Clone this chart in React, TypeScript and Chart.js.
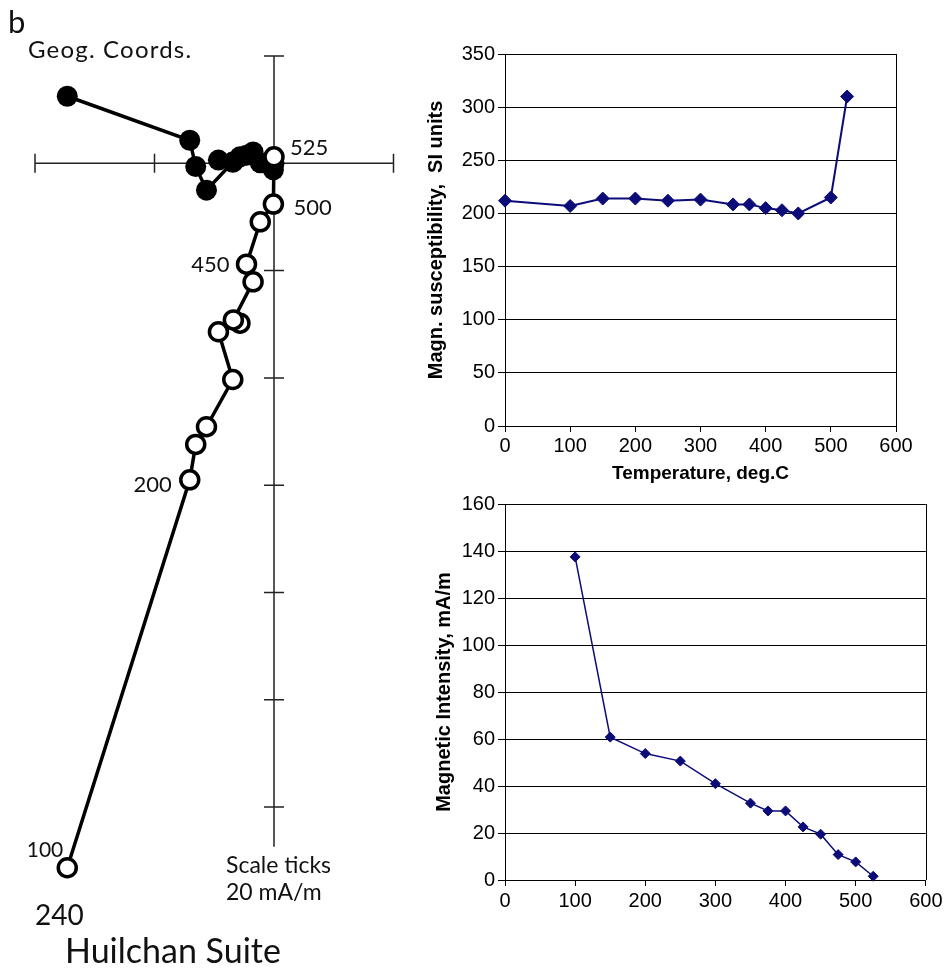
import React, { useEffect, useRef } from 'react';
import { Chart, registerables } from 'chart.js';

Chart.register(...registerables);

const W = 946;
const H = 968;

// ---- Magnetic susceptibility vs temperature ----
const suscTemps = [0, 100, 150, 200, 250, 300, 350, 375, 400, 425, 450, 500, 525];
const suscValues = [212, 207, 214, 214, 212, 213, 208.5, 208.5, 205, 203, 200, 215, 310];

// ---- Magnetic intensity vs temperature ----
const intTemps = [100, 150, 200, 250, 300, 350, 375, 400, 425, 450, 475, 500, 525];
const intValues = [137.5, 60.8, 53.8, 50.6, 41.0, 32.7, 29.4, 29.4, 22.6, 19.5, 10.8, 7.7, 1.6];

// ---- Zijderveld diagram (mA/m), Geog. coords ----
const zijSteps = [100, 150, 200, 250, 300, 350, 375, 400, 425, 450, 475, 500, 525];
const zijEast = [-34.6, -14.1, -13.1, -11.3, -6.9, -9.3, -5.7, -6.8, -3.5, -4.6, -2.3, -0.1, 0];
const zijNorth = [12.5, 4.3, -0.6, -5.0, 0.2, 0.6, 1.2, 0.3, 2.1, 1.5, 0.1, -1.2, 0];
const zijUp = [-131.3, -59.0, -52.4, -49.1, -40.3, -31.4, -29.8, -29.2, -22.1, -18.8, -10.9, -7.6, 1.2];
const zijLabels = ['100', '200', '', '', '', '', '', '', '', '450', '', '500', '525'];
const zijHTicks = [-40, -20, 20];
const zijVTicks = [20, -20, -40, -60, -80, -100, -120];
const zijHRange = [-40, 20];
const zijVRange = [-127.4, 20];

// label placement (style, kept apart from values): [dx, dy, align, fontSize]
const zijLabelPlace: [number, number, CanvasTextAlign, number][] = [
  [-4, -11, 'right', 21],
  [-18, 12, 'right', 22],
  [0, 0, 'left', 22], [0, 0, 'left', 22], [0, 0, 'left', 22], [0, 0, 'left', 22],
  [0, 0, 'left', 22], [0, 0, 'left', 22], [0, 0, 'left', 22],
  [-17, 8, 'right', 22],
  [0, 0, 'left', 22],
  [20, 11, 'left', 22],
  [16, -2, 'left', 22],
];

const SERIES = '#0c0c78';
const GEO_FONT = 'Lato, "DejaVu Sans", sans-serif';
const XL_FONT = '"Liberation Sans", Arial, sans-serif';

const zijPlugin = {
  id: 'zijAxes',
  beforeDatasetsDraw(chart: any) {
    const { ctx } = chart;
    const x = chart.scales.x;
    const y = chart.scales.y;
    const x0 = x.getPixelForValue(0);
    const y0 = y.getPixelForValue(0);
    ctx.save();
    ctx.strokeStyle = '#222';
    ctx.lineWidth = 1.5;
    ctx.beginPath();
    ctx.moveTo(x.getPixelForValue(zijHRange[0]), y0);
    ctx.lineTo(x.getPixelForValue(zijHRange[1]), y0);
    ctx.moveTo(x0, y.getPixelForValue(zijVRange[1]));
    ctx.lineTo(x0, y.getPixelForValue(zijVRange[0]));
    for (const t of zijHTicks) {
      const px = x.getPixelForValue(t);
      ctx.moveTo(px, y0 - 9.5);
      ctx.lineTo(px, y0 + 9.5);
    }
    for (const t of zijVTicks) {
      const py = y.getPixelForValue(t);
      ctx.moveTo(x0 - 10, py);
      ctx.lineTo(x0 + 10, py);
    }
    ctx.stroke();
    ctx.restore();
  },
  afterDatasetsDraw(chart: any) {
    const { ctx } = chart;
    const x = chart.scales.x;
    const y = chart.scales.y;
    ctx.save();
    ctx.fillStyle = '#111';
    ctx.textBaseline = 'alphabetic';
    zijLabels.forEach((lab, i) => {
      if (!lab) return;
      const [dx, dy, align, size] = zijLabelPlace[i];
      ctx.font = `${size}px ${GEO_FONT}`;
      ctx.textAlign = align;
      ctx.fillText(lab, x.getPixelForValue(zijEast[i]) + dx, y.getPixelForValue(zijUp[i]) + dy);
    });
    const texts: [string, number, number, number, number][] = [
      ['b', 8, 33, 31, 0],
      ['Geog. Coords.', 28, 58, 24, 1.2],
      ['Scale ticks', 226, 873, 23, 0],
      ['20 mA/m', 226, 900, 23, 0],
      ['240', 35, 925, 28, 0],
      ['Huilchan Suite', 65, 963, 34, 0],
    ];
    ctx.textAlign = 'left';
    for (const [t, tx, ty, s, ls] of texts) {
      ctx.font = `${s}px ${GEO_FONT}`;
      (ctx as any).letterSpacing = `${ls}px`;
      ctx.fillText(t, tx, ty);
    }
    (ctx as any).letterSpacing = '0px';
    ctx.restore();
  },
};

const framePlugin = {
  id: 'plotFrame',
  beforeDatasetsDraw(chart: any) {
    const { ctx, chartArea } = chart;
    const xr = Math.round(chartArea.right) + 0.5;
    ctx.save();
    ctx.strokeStyle = '#000';
    ctx.lineWidth = 1;
    ctx.beginPath();
    ctx.moveTo(xr, chartArea.top);
    ctx.lineTo(xr, chartArea.bottom);
    ctx.stroke();
    ctx.restore();
  },
};

function zijConfig(): any {
  // plot box: x -40 → 35px, 20 → 393.5px ; y 20 → 56px, -135 → 887.6px
  return {
    type: 'scatter',
    data: {
      datasets: [
        {
          label: 'Vertical',
          data: zijSteps.map((_, i) => ({ x: zijEast[i], y: zijUp[i] })),
          showLine: true,
          borderColor: '#000',
          borderWidth: 3.5,
          pointRadius: 9,
          pointBorderWidth: 3.5,
          pointBackgroundColor: '#fff',
          pointBorderColor: '#000',
          clip: false,
          order: 0,
        },
        {
          label: 'Horizontal',
          data: zijSteps.map((_, i) => ({ x: zijEast[i], y: zijNorth[i] })),
          showLine: true,
          borderColor: '#000',
          borderWidth: 3.5,
          pointRadius: 10.5,
          pointBorderWidth: 0,
          pointBackgroundColor: '#000',
          pointBorderColor: '#000',
          clip: false,
          order: 1,
        },
      ],
    },
    options: {
      responsive: false,
      animation: false,
      devicePixelRatio: 1,
      events: [],
      layout: { padding: { left: 35, right: W - 393.5, top: 56, bottom: H - 887.6 } },
      plugins: { legend: { display: false }, tooltip: { enabled: false } },
      scales: {
        x: { type: 'linear', min: -40, max: 20, display: false },
        y: { type: 'linear', min: -135, max: 20, display: false },
      },
    },
    plugins: [zijPlugin],
  };
}

function xlScales(o: {
  xMax: number; yMax: number; yStep: number; yTitle: string; xTitle?: string;
  xH: number; xPad: number; yTitlePad: number;
}): any {
  return {
    x: {
      type: 'linear',
      min: 0,
      max: o.xMax,
      ticks: { stepSize: 100, color: '#000', padding: o.xPad, font: { family: XL_FONT, size: 20 }, maxRotation: 0 },
      grid: { drawOnChartArea: false, drawTicks: true, tickLength: 6, color: '#000', lineWidth: 1 },
      border: { display: true, color: '#000', width: 1 },
      title: o.xTitle
        ? { display: true, text: o.xTitle, color: '#000', padding: { top: 0, bottom: 0 }, font: { family: XL_FONT, size: 19, weight: 'bold' } }
        : { display: false },
      afterFit: (s: any) => { s.height = o.xH; },
    },
    y: {
      type: 'linear',
      min: 0,
      max: o.yMax,
      ticks: { stepSize: o.yStep, color: '#000', padding: 3, font: { family: XL_FONT, size: 20 } },
      grid: { drawOnChartArea: true, drawTicks: true, tickLength: 7, color: '#000', lineWidth: 1 },
      border: { display: true, color: '#000', width: 1 },
      title: { display: true, text: o.yTitle, color: '#000', padding: { top: o.yTitlePad, bottom: 0 }, font: { family: XL_FONT, size: 20, weight: 'bold' } },
      afterFit: (s: any) => { s.width = 85; },
    },
  };
}

function suscConfig(): any {
  const xH = 59;
  return {
    type: 'scatter',
    data: {
      datasets: [{
        label: 'Susceptibility',
        data: suscTemps.map((t, i) => ({ x: t, y: suscValues[i] })),
        showLine: true,
        borderColor: SERIES,
        borderWidth: 2,
        pointStyle: 'rectRot',
        pointRadius: 6.5,
        pointBorderWidth: 1,
        pointBackgroundColor: SERIES,
        pointBorderColor: SERIES,
        clip: false,
      }],
    },
    options: {
      responsive: false,
      animation: false,
      devicePixelRatio: 1,
      events: [],
      layout: { padding: { left: 420, right: W - 896, top: 54, bottom: H - 426 - xH } },
      plugins: { legend: { display: false }, tooltip: { enabled: false } },
      scales: xlScales({ xMax: 600, yMax: 350, yStep: 50, yTitle: 'Magn. susceptibility,  SI units', xTitle: 'Temperature, deg.C', xH, xPad: 2, yTitlePad: 4 }),
    },
    plugins: [framePlugin],
  };
}

function intConfig(): any {
  const xH = 40;
  return {
    type: 'scatter',
    data: {
      datasets: [{
        label: 'Intensity',
        data: intTemps.map((t, i) => ({ x: t, y: intValues[i] })),
        showLine: true,
        borderColor: SERIES,
        borderWidth: 1.5,
        pointStyle: 'rectRot',
        pointRadius: 5,
        pointBorderWidth: 1,
        pointBackgroundColor: SERIES,
        pointBorderColor: SERIES,
        clip: false,
      }],
    },
    options: {
      responsive: false,
      animation: false,
      devicePixelRatio: 1,
      events: [],
      layout: { padding: { left: 420, right: W - 926, top: 504, bottom: H - 880 - xH } },
      plugins: { legend: { display: false }, tooltip: { enabled: false } },
      scales: xlScales({ xMax: 600, yMax: 160, yStep: 20, yTitle: 'Magnetic Intensity, mA/m', xH, xPad: 3.5, yTitlePad: 12 }),
    },
    plugins: [framePlugin],
  };
}

export default function App() {
  const zRef = useRef<HTMLCanvasElement>(null);
  const sRef = useRef<HTMLCanvasElement>(null);
  const iRef = useRef<HTMLCanvasElement>(null);

  useEffect(() => {
    const charts: Chart[] = [];
    if (zRef.current) charts.push(new Chart(zRef.current, zijConfig()));
    if (sRef.current) charts.push(new Chart(sRef.current, suscConfig()));
    if (iRef.current) charts.push(new Chart(iRef.current, intConfig()));
    return () => charts.forEach((c) => c.destroy());
  }, []);

  const cStyle: React.CSSProperties = { position: 'absolute', left: 0, top: 0, width: W, height: H };
  return (
    <div style={{ position: 'absolute', left: 0, top: 0, width: W, height: H, background: '#fff', overflow: 'hidden' }}>
      <canvas ref={zRef} width={W} height={H} style={cStyle} />
      <canvas ref={sRef} width={W} height={H} style={cStyle} />
      <canvas ref={iRef} width={W} height={H} style={cStyle} />
    </div>
  );
}
